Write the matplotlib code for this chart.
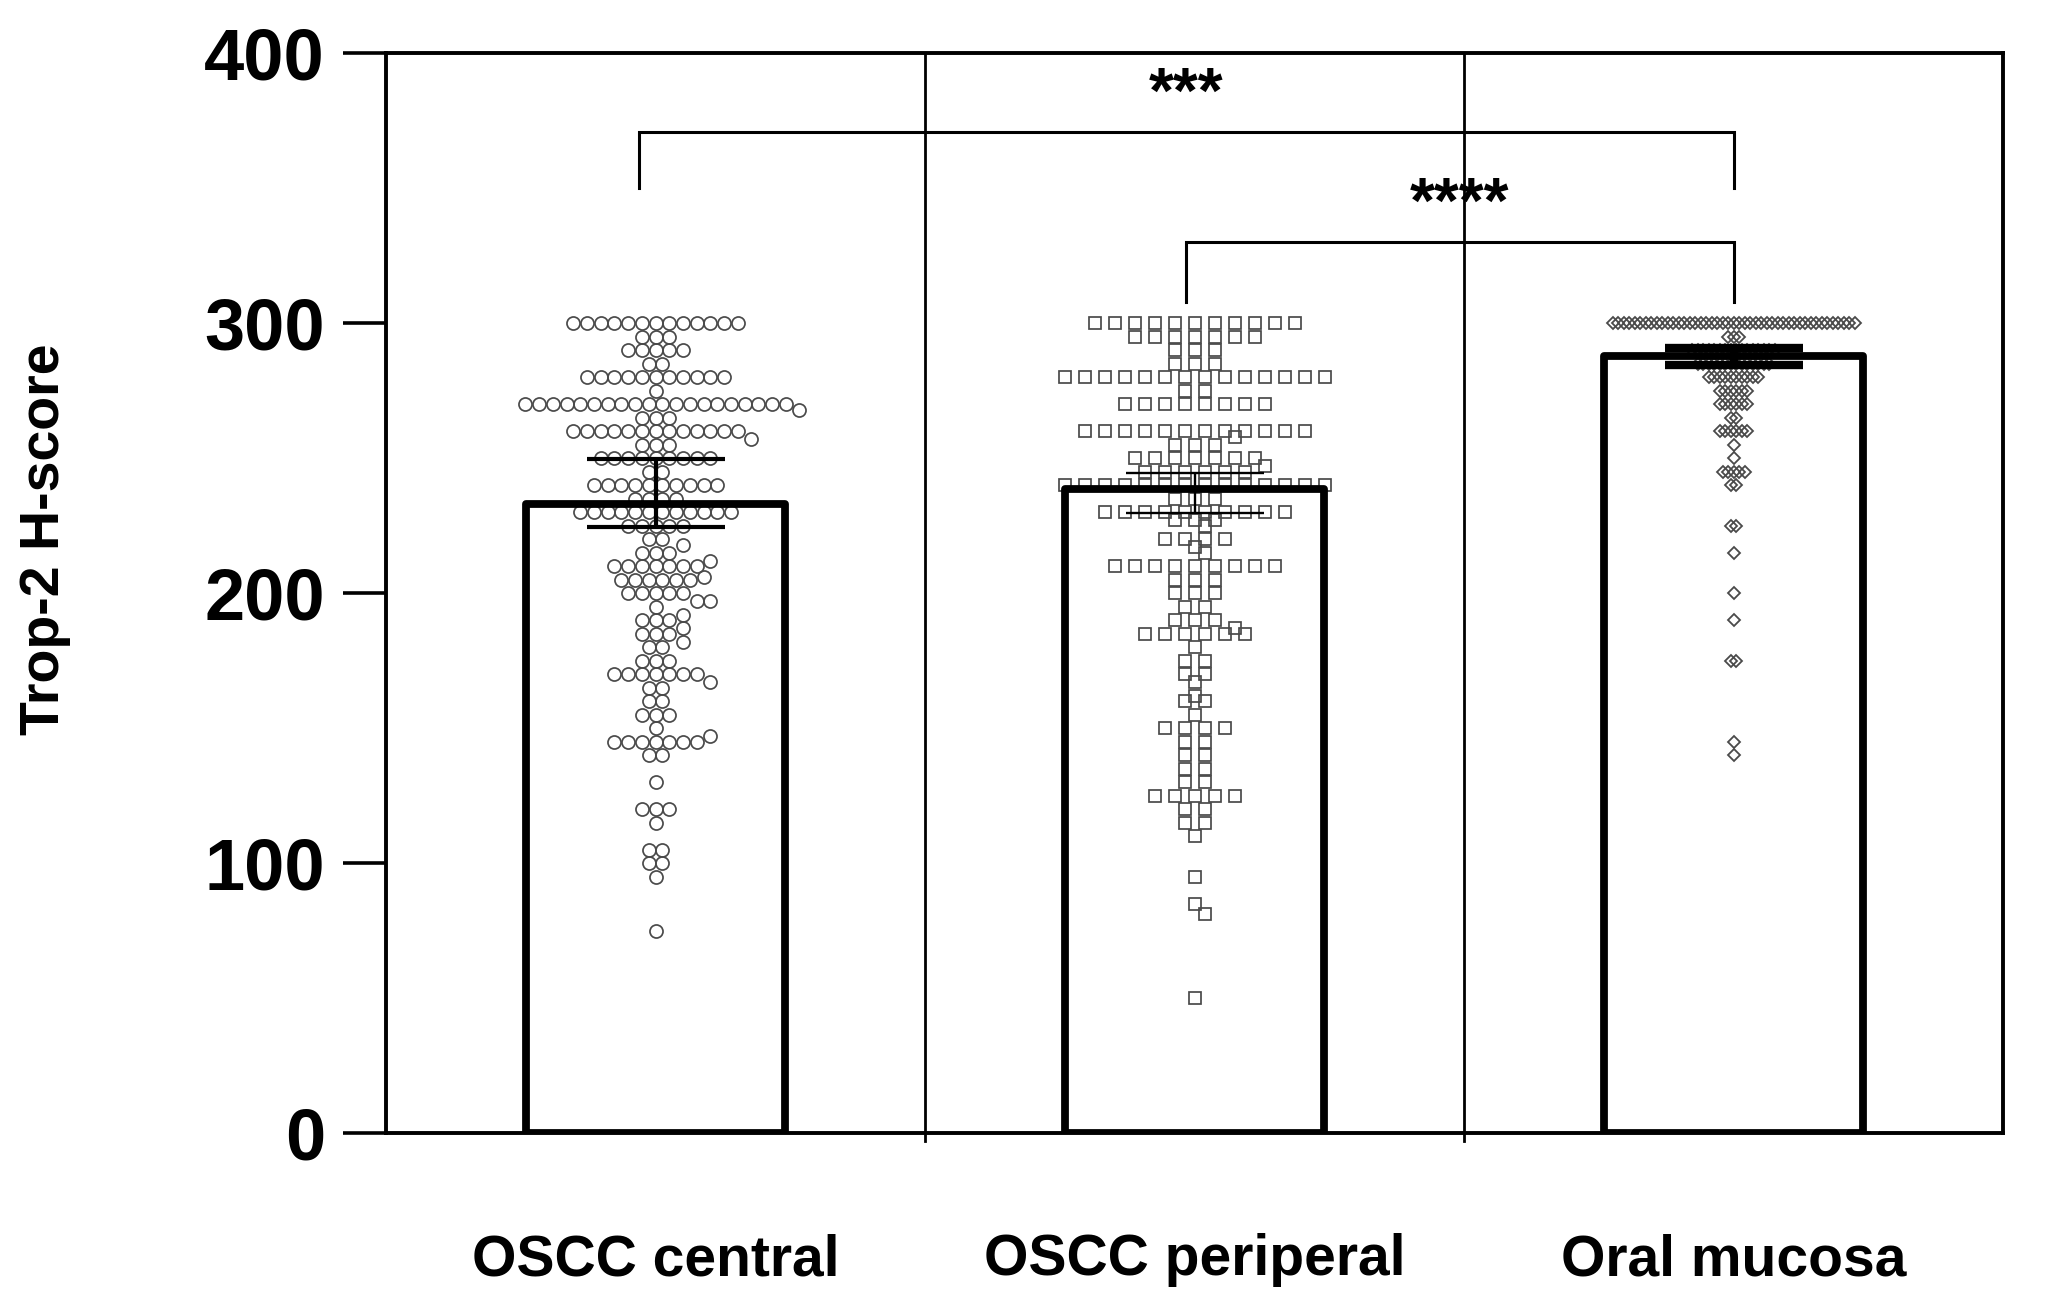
import matplotlib
matplotlib.use("Agg")
import matplotlib.pyplot as plt
import numpy as np

plt.rcParams['font.family'] = ['Liberation Sans', 'DejaVu Sans']
plt.rcParams['font.weight'] = 'bold'

# ---- data ----
groups = ["OSCC central", "OSCC periperal", "Oral mucosa"]
y_ticks = [0, 100, 200, 300, 400]

central_levels = [300, 295, 290, 285, 280, 275, 270, 268, 265, 260, 257, 255, 250, 245, 240,
                  235, 230, 225, 220, 218, 215, 212, 210, 206, 205, 200, 197, 195, 192, 190,
                  187, 185, 182, 180, 175, 170, 167, 165, 160, 155, 150, 147, 145, 140, 130,
                  120, 115, 105, 100, 95, 75]
central_counts = [13, 3, 5, 2, 11, 1, 20, 1, 3, 13, 1, 3, 9, 2, 10,
                  4, 12, 5, 2, 1, 3, 1, 7, 1, 6, 5, 2, 1, 1, 3,
                  1, 3, 1, 2, 3, 7, 1, 2, 2, 3, 1, 1, 7, 2, 1,
                  3, 1, 2, 2, 1, 1]

peripheral_levels = [300, 295, 290, 285, 280, 275, 270, 260, 258, 255, 250, 247, 245, 240, 235,
                     230, 227, 225, 220, 217, 215, 210, 205, 200, 195, 190, 187, 185, 180, 175,
                     170, 167, 162, 160, 155, 150, 145, 140, 135, 130, 125, 120, 115, 110, 95,
                     85, 81, 50]
peripheral_counts = [11, 7, 3, 3, 14, 2, 8, 12, 1, 3, 7, 1, 6, 14, 3,
                     10, 3, 1, 4, 1, 1, 9, 3, 3, 2, 3, 1, 6, 1, 2,
                     2, 1, 1, 2, 1, 4, 2, 2, 2, 2, 5, 2, 2, 1, 1,
                     1, 1, 1]

mucosa_levels = [300, 295, 290, 285, 280, 275, 270, 265, 260, 255, 250, 245, 240, 225, 215,
                 200, 190, 175, 145, 140]
mucosa_counts = [45, 3, 16, 14, 10, 6, 6, 2, 6, 1, 1, 5, 2, 2, 1,
                 1, 1, 2, 1, 1]

bar_heights = [233.0, 238.5, 288.0]
err_low = [224.6, 229.8, 284.5]
err_high = [249.6, 244.7, 291.0]

sig_labels = ["***", "****"]


def swarm(levels, counts, step_px, min_gap_px, px_x, px_y):
    """Lay points of equal value out in rows, nudge rows that would overlap."""
    placed_x = np.empty(0)
    placed_y = np.empty(0)
    out_x, out_y = [], []
    order = sorted(range(len(levels)), key=lambda i: (-counts[i], -levels[i]))
    for i in order:
        n = counts[i]
        y = levels[i] * px_y
        base = (np.arange(n) - (n - 1) / 2) * step_px
        for k in range(200):
            shift = ((k + 1) // 2) * (1 if k % 2 else -1) * step_px / 2
            cand = base + shift
            if placed_x.size == 0:
                break
            d = np.hypot(cand[:, None] - placed_x[None, :], y - placed_y[None, :])
            if d.min() >= min_gap_px:
                break
        placed_x = np.concatenate([placed_x, cand])
        placed_y = np.concatenate([placed_y, np.full(n, y)])
        out_x.extend(cand / px_x)
        out_y.extend([levels[i]] * n)
    return np.array(out_x), np.array(out_y)


fig = plt.figure(figsize=(20.46, 13.01), dpi=100)
ax = fig.add_axes([0.1887, 0.1291, 0.7903, 0.8298])
ax.set_xlim(-0.5, len(groups) - 0.5)
ax.set_ylim(0, 400)

# pixel size of one data unit, used for the swarm layout
p0 = ax.transData.transform((0, 0))
p1 = ax.transData.transform((1, 1))
px_x, px_y = p1 - p0

x = np.arange(len(groups))
swarm_specs = [
    (central_levels, central_counts, 'o', 9.4, 13.7, 12.0, 1.25),
    (peripheral_levels, peripheral_counts, 's', 9.0, 20.0, 11.0, 1.25),
    (mucosa_levels, mucosa_counts, 'D', 6.3, 5.5, 4.0, 1.3),
]
for xi, (lv, ct, marker, ms, step, gap, mew) in zip(x, swarm_specs):
    dx, vals = swarm(lv, ct, step, gap, px_x, px_y)
    ax.plot(xi + dx, vals, linestyle='none', marker=marker, markersize=ms,
            markerfacecolor='none', markeredgecolor='#4a4a4a', markeredgewidth=mew,
            zorder=2)

ax.bar(x, bar_heights, width=0.48, facecolor='none', edgecolor='black',
       linewidth=5.6, joinstyle='round', zorder=3)

err_widths = [3.0, 1.7, 6.0]
for xi, h, lo, hi, lw in zip(x, bar_heights, err_low, err_high, err_widths):
    ax.errorbar([xi], [h], yerr=[[h - lo], [hi - h]], fmt='none', ecolor='black',
                elinewidth=lw, capsize=49.5, capthick=lw, zorder=4)

# group dividers
for xv in x[:-1] + 0.5:
    ax.plot([xv, xv], [-3, 400], color='black', linewidth=2.0, clip_on=False, zorder=5)

# significance brackets
def bracket(x1, x2, y_top, y_leg, label, label_y):
    ax.plot([x1, x1, x2, x2], [y_leg, y_top, y_top, y_leg], color='black',
            linewidth=2.2, solid_joinstyle='miter', zorder=5)
    ax.text((x1 + x2) / 2, label_y, label, ha='center', va='center',
            fontsize=46, fontweight='bold', zorder=6)

bracket(-0.03, 2.0, 371, 350, sig_labels[0], 384.5)
bracket(0.985, 2.0, 330, 308, sig_labels[1], 343.5)

for sp in ax.spines.values():
    sp.set_linewidth(2.8)

ax.set_yticks(y_ticks)
ax.tick_params(axis='y', length=31, width=2.6, pad=13, labelsize=52, direction='out')
ax.set_xticks(x)
ax.set_xticklabels(groups)
ax.tick_params(axis='x', length=0, pad=72, labelsize=41)
for lab in ax.get_xticklabels() + ax.get_yticklabels():
    lab.set_fontweight('bold')

ax.set_ylabel('Trop-2 H-score', fontsize=40, fontweight='bold')
ax.yaxis.set_label_coords(-0.195, 0.55)

fig.savefig('out.png', dpi=100, facecolor='white')
